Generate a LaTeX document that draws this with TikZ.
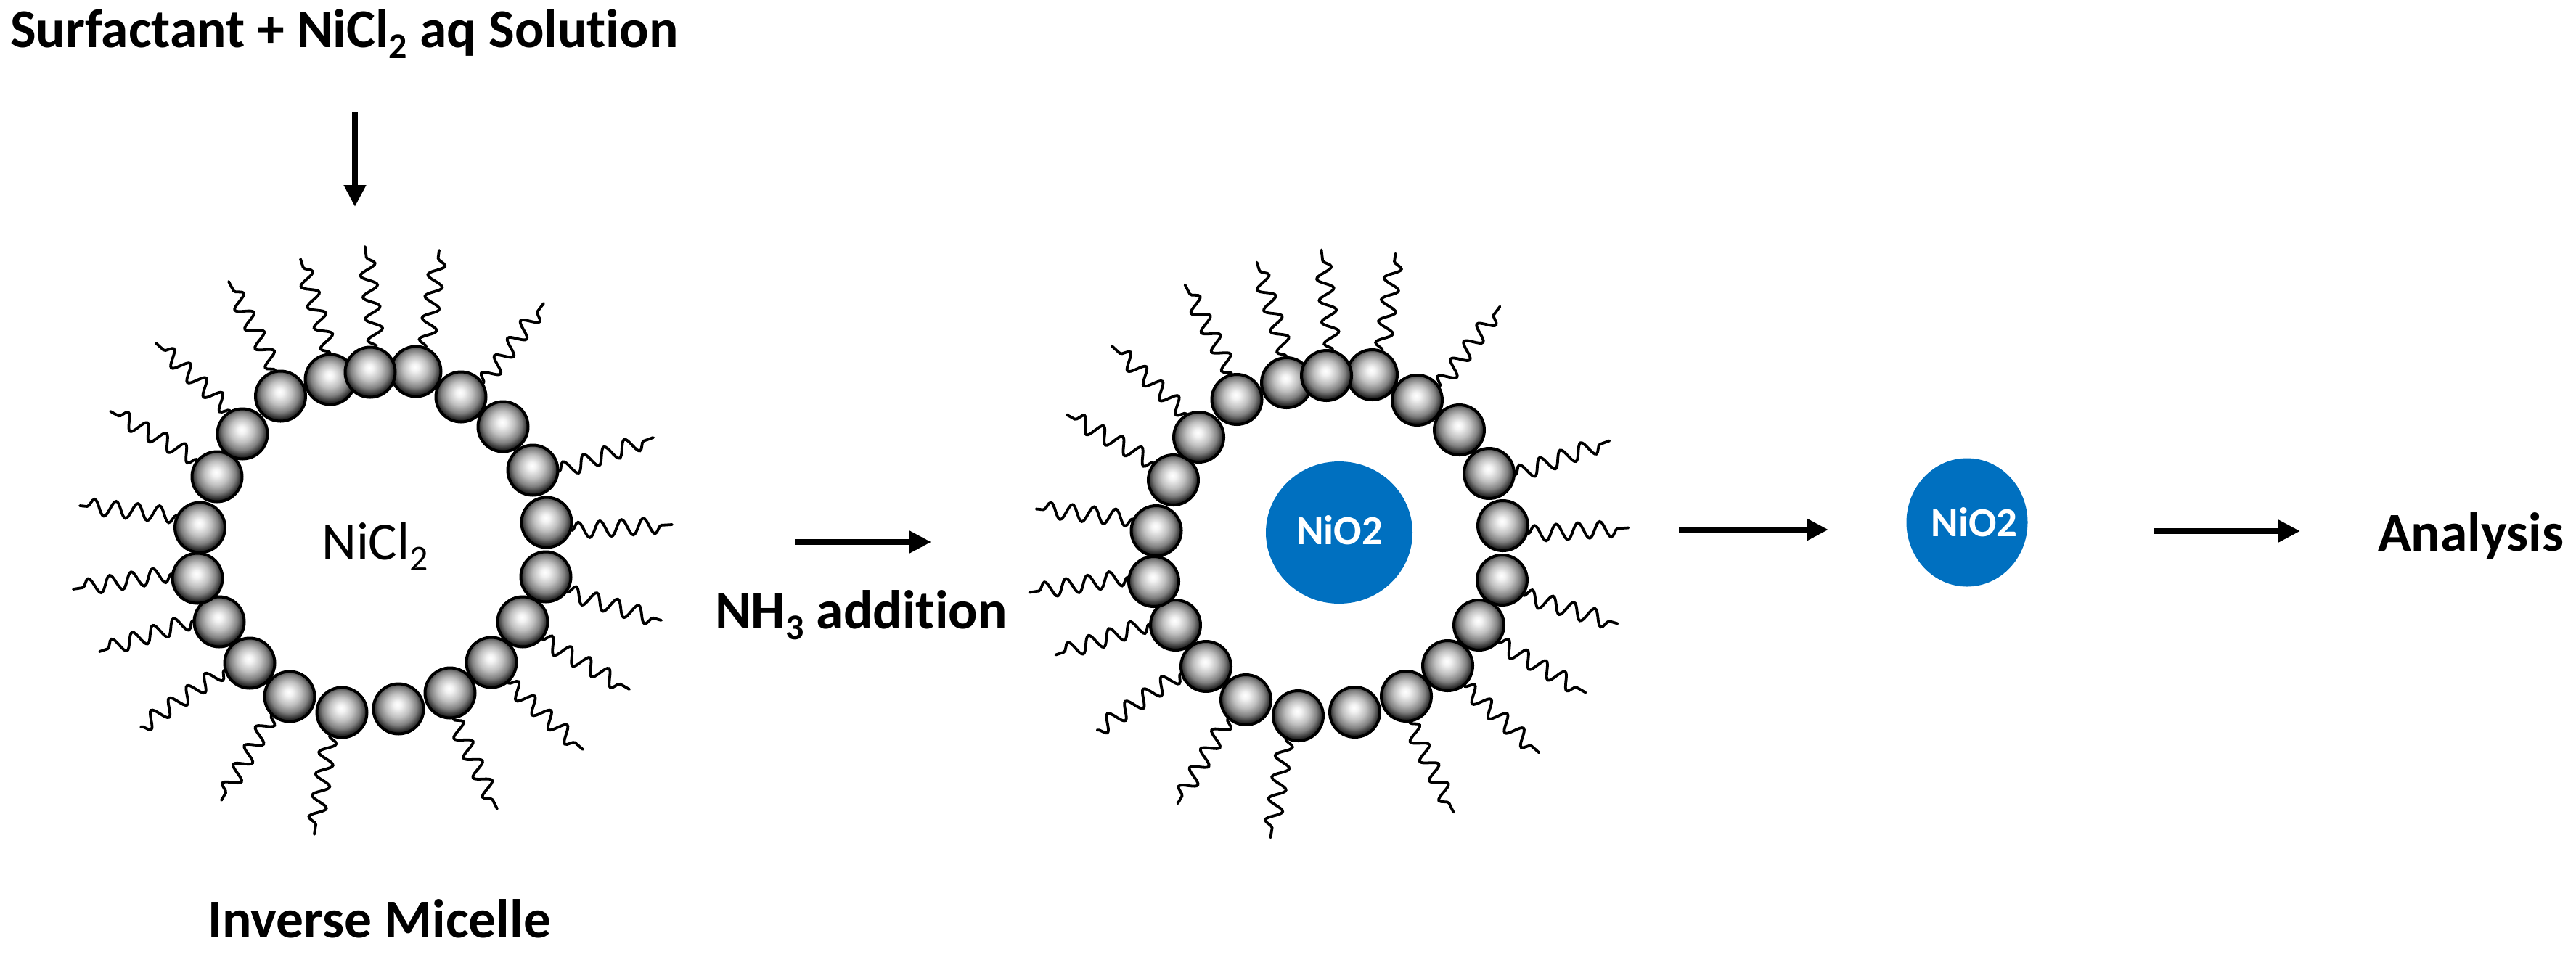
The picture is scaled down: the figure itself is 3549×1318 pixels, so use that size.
\documentclass[tikz,border=0pt]{standalone}
\usepackage{fontspec}
\setmainfont{Carlito}[Ligatures=NoCommon]
\usetikzlibrary{arrows.meta,decorations.pathmorphing,shapes.geometric}
\pgfdeclareradialshading{beadshade}{\pgfpoint{-1bp}{4.5bp}}{
  color(0bp)=(white);
  color(4bp)=(black!5);
  color(12bp)=(black!25);
  color(19bp)=(black!50);
  color(24bp)=(black!80);
  color(28bp)=(black);
  color(50bp)=(black)}
\definecolor{nioblue}{HTML}{0070C0}
\newcommand{\lowdigit}[1]{\raisebox{-15pt}{\fontsize{50}{54}\selectfont #1}}
\tikzset{
  beadball/.style={circle,draw=black,line width=4pt,minimum size=69pt,inner sep=0pt,shading=beadshade},
  tailwave/.style={line width=3.8pt,line cap=round,decorate,decoration={snake,segment length=30pt,amplitude=11pt}},
  bigarrow/.style={line width=8.5pt,-{Triangle[length=30pt,width=29pt]}},
  boldtext/.style={anchor=base west,inner sep=0pt,font=\bfseries\fontsize{75.5}{84}\selectfont},
  blueball/.style={ellipse,fill=nioblue,inner sep=0pt,text=white},
  niotext/.style={text=white,font=\bfseries\fontsize{57}{62}\selectfont,inner sep=0pt}
}
\newcommand{\micelle}[3]{%
  \foreach \n/\x/\y in {
    a/693/588, b/734/648, c/753/720, d/752/795, e/720/857, f/677/913, g/620/955,
    h/549/977, i/471/982, j/399/960, k/344/914, l/302/857, m/272/797, n/275.5/727,
    o/299/657, p/334/598, q/386.5/546, r/635/547, s/455/523, t/573/512, u/510/513}{
    \node[beadball] (#1\n) at (\x+#2,\y+#3) {};
  }
  \foreach \n/\ang/\x/\y in {
    s/90/414/357, u/76/503/340, t/67/605/345, q/101/315/388, p/118/215/473,
    o/139/152/567, n/153/110/697, m/170/101/812, r/31/749/418, b/-3/900/603,
    c/-18/926/723, d/-36/911/855, e/-42/867/950, f/-51/803/1033, g/-83/685/1115,
    i/-118/433/1150, j/-134/305/1103, k/-165/194/1002, l/177/137/898}{
    \coordinate (#1e\n) at (\x+#2,\y+#3);
    \draw[tailwave] (#1\n.\ang) -- (#1e\n);
  }
}
\begin{document}
\begin{tikzpicture}[x=1pt,y=-1pt]
\useasboundingbox (0,0) rectangle (3549,1318);
\micelle{A}{0}{0}
\micelle{B}{1317.5}{4.5}
\node[blueball,minimum width=202pt,minimum height=196pt] (inner) at (1845,734) {};
\node[niotext] (innerlabel) at (1845.5,731) {NiO2};
\node[blueball,minimum width=167pt,minimum height=177pt] (free) at (2710,720) {};
\node[niotext] (freelabel) at (2720,720) {NiO2};
\node[anchor=base west,inner sep=0pt,font=\fontsize{74}{84}\selectfont] (nicl) at (443,771) {NiCl\lowdigit{2}};
\node[boldtext] (surf) at (14,65) {Surfactant + NiCl\lowdigit{2} aq Solution};
\node[boldtext] (inv) at (286,1292) {Inverse Micelle};
\node[boldtext] (nh) at (985,866) {NH\lowdigit{3} addition};
\node[boldtext] (ana) at (3276,759) {Analysis};
\coordinate (a1s) at (489,154); \coordinate (a1e) at (489,285);
\coordinate (a2s) at (1095,747); \coordinate (a2e) at (1283,747);
\coordinate (a3s) at (2313,730); \coordinate (a3e) at (2519,730);
\coordinate (a4s) at (2968,732); \coordinate (a4e) at (3169,732);
\draw[bigarrow] (a1s) -- (a1e);
\draw[bigarrow] (a2s) -- (a2e);
\draw[bigarrow] (a3s) -- (a3e);
\draw[bigarrow] (a4s) -- (a4e);
\end{tikzpicture}
\end{document}
